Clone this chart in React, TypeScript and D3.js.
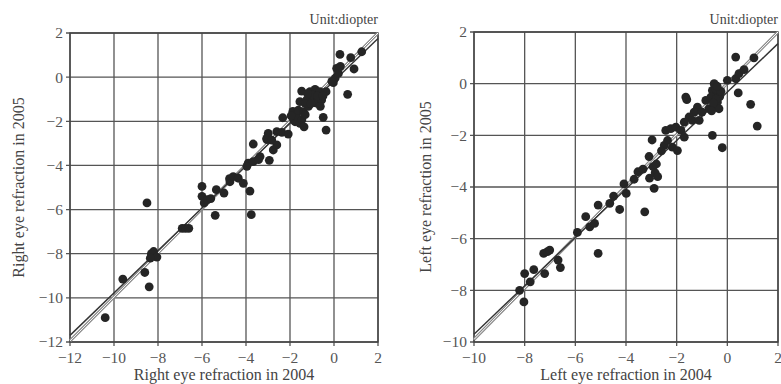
import React from "react";
import * as d3 from "d3";

// Right eye (left panel): [2004, 2005]
const rightEye2004 = [-10.4,-9.6,-8.6,-8.4,-8.5,-8.3,-8.2,-8.05,-8.35,-6.9,-6.75,-6.6,-6.0,-6.0,-5.9,-5.75,-5.6,-5.4,-5.35,-5.0,-4.75,-4.73,-4.58,-4.35,-4.12,-3.82,-3.76,-3.9,-3.96,-3.67,-3.67,-3.36,-3.43,-2.94,-3.05,-2.99,-3.06,-2.83,-2.6,-2.76,-2.6,-2.37,-2.08,-2.33,-1.87,-1.84,-1.77,-1.7,-1.62,-1.55,-1.39,-1.46,-1.36,-1.31,-1.55,-1.24,-1.16,-0.94,-0.79,-0.56,-0.62,-1.47,-1.09,-0.86,-0.64,-0.36,-0.49,-0.36,-0.03,0.05,0.12,0.2,0.29,0.27,0.76,1.26,0.91,0.62,-0.1,-1.0,-0.75,-1.3,-0.5,-1.2,-1.95,-1.05];
const rightEye2005 = [-10.9,-9.15,-8.85,-9.5,-5.7,-8.0,-7.9,-8.15,-8.2,-6.85,-6.85,-6.85,-4.95,-5.4,-5.7,-5.55,-5.5,-6.26,-5.1,-5.25,-4.6,-4.74,-4.51,-4.58,-4.81,-5.16,-6.23,-3.9,-4.04,-3.83,-3.03,-3.6,-3.74,-3.77,-2.83,-2.55,-2.77,-2.85,-2.47,-3.3,-3.07,-2.5,-2.58,-1.84,-1.55,-1.93,-2.02,-1.79,-1.49,-2.09,-1.57,-1.93,-2.25,-1.7,-1.11,-1.03,-1.32,-0.95,-1.18,-1.03,-1.32,-0.63,-0.66,-0.55,-0.66,-0.66,-1.82,-2.4,-0.25,-0.05,0.4,0.17,0.49,1.03,0.88,1.15,0.37,-0.78,-0.19,-0.8,-0.85,-1.2,-0.85,-0.75,-1.75,-1.2];

// Left eye (right panel): [2004, 2005]
const leftEye2004 = [-8.2,-8.03,-8.0,-7.78,-7.64,-7.21,-7.25,-7.1,-7.01,-6.68,-6.59,-5.92,-5.59,-5.43,-5.24,-5.1,-5.1,-4.64,-4.49,-4.25,-4.08,-3.99,-3.68,-3.53,-3.33,-3.26,-3.09,-3.07,-2.97,-2.89,-2.93,-2.8,-2.85,-2.49,-2.36,-2.17,-2.43,-2.23,-2.03,-1.83,-1.97,-1.7,-1.64,-1.6,-1.18,-1.31,-1.51,-1.38,-1.11,-1.7,-0.85,-0.52,-0.59,-0.39,-0.65,-0.39,-0.52,-0.72,-0.33,-0.45,-0.3,-0.59,-0.2,0.0,0.33,0.46,0.66,0.33,1.05,0.43,0.92,1.18,-0.45,-0.55,-0.25,-0.4,-0.62,-1.0,-2.6,-2.75];
const leftEye2005 = [-8.0,-8.45,-7.35,-7.67,-7.2,-7.35,-6.57,-6.5,-6.44,-6.83,-7.12,-5.76,-5.15,-5.54,-5.41,-4.7,-6.57,-4.63,-4.35,-4.87,-3.88,-4.25,-3.7,-3.41,-3.31,-4.96,-2.82,-3.66,-2.18,-4.05,-3.21,-3.11,-3.45,-2.39,-2.2,-2.46,-1.81,-1.74,-1.68,-1.81,-2.59,-2.07,-0.52,-0.62,-0.91,-1.1,-1.29,-1.42,-1.42,-1.49,-0.65,0.0,-0.26,-0.39,-0.52,-0.71,-0.91,-0.97,-0.97,-0.2,-0.5,-2.0,-2.48,0.13,0.19,0.39,0.54,1.03,1.0,-0.36,-0.8,-1.64,-0.6,-0.75,-0.3,-0.1,-1.05,-1.1,-2.6,-3.6];

const rightTicks = [-12, -10, -8, -6, -4, -2, 0, 2];
const leftTicks = [-10, -8, -6, -4, -2, 0, 2];

// Fitted (solid) and reference (double) lines: [x1, y1, x2, y2]
const rightEyeFit = [-12, -11.7, 2, 1.75];
const rightEyeRef = [-12, -11.95, 2, 2];
const leftEyeFit = [-10, -9.7, 2, 1.55];
const leftEyeRef = [-10, -9.9, 2, 2];

const FONT = "'Liberation Serif', 'Times New Roman', serif";

type PanelProps = {
  xs: number[]; ys: number[]; ticks: number[];
  x0: number; x1: number; y0: number; y1: number;
  fit: number[]; ref: number[];
  xLabel: string; yLabel: string; yLabelX: number;
};

const fmt = (v: number) => (v < 0 ? "\u2212" + Math.abs(v) : String(v));

function Panel(p: PanelProps) {
  const dom: [number, number] = [p.ticks[0], p.ticks[p.ticks.length - 1]];
  const x = d3.scaleLinear().domain(dom).range([p.x0, p.x1]);
  const y = d3.scaleLinear().domain(dom).range([p.y1, p.y0]);
  const grid = "#555";
  const cx = (p.x0 + p.x1) / 2;
  const cy = (p.y0 + p.y1) / 2;
  return (
    <g>
      <rect x={p.x0} y={p.y0} width={p.x1 - p.x0} height={p.y1 - p.y0} fill="#fff" />
      {p.ticks.map((t) => (
        <g key={"g" + t}>
          <line x1={x(t)} x2={x(t)} y1={p.y0} y2={p.y1 + 4} stroke={grid} strokeWidth={1.3} />
          <line x1={p.x0 - 4} x2={p.x1} y1={y(t)} y2={y(t)} stroke={grid} strokeWidth={1.3} />
          <text x={x(t)} y={p.y1 + 21} textAnchor="middle" fontFamily={FONT} fontSize={15.5} fill="#555">{fmt(t)}</text>
          <text x={p.x0 - 7} y={y(t)} dy="0.35em" textAnchor="end" fontFamily={FONT} fontSize={15.5} fill="#555">{fmt(t)}</text>
        </g>
      ))}
      <rect x={p.x0} y={p.y0} width={p.x1 - p.x0} height={p.y1 - p.y0} fill="none" stroke="#444" strokeWidth={1.4} />
      <line x1={x(p.ref[0])} y1={y(p.ref[1])} x2={x(p.ref[2])} y2={y(p.ref[3])} stroke="#8a8a8a" strokeWidth={3} />
      <line x1={x(p.ref[0])} y1={y(p.ref[1])} x2={x(p.ref[2])} y2={y(p.ref[3])} stroke="#fff" strokeWidth={1} />
      <line x1={x(p.fit[0])} y1={y(p.fit[1])} x2={x(p.fit[2])} y2={y(p.fit[3])} stroke="#333" strokeWidth={1.4} />
      {p.xs.map((v, i) => (
        <circle key={i} cx={x(v)} cy={y(p.ys[i])} r={4.4} fill="#252525" />
      ))}
      <text x={p.x1} y={24} textAnchor="end" fontFamily={FONT} fontSize={14} fill="#444">Unit:diopter</text>
      <text x={cx} y={380} textAnchor="middle" fontFamily={FONT} fontSize={16} fill="#444">{p.xLabel}</text>
      <text transform={`translate(${p.yLabelX},${cy}) rotate(-90)`} textAnchor="middle" dy="0.35em" fontFamily={FONT} fontSize={16} fill="#444">{p.yLabel}</text>
    </g>
  );
}

export default function App() {
  return (
    <svg width={781} height={384} style={{ position: "absolute", left: 0, top: 0, background: "#fff" }}>
      <rect width={781} height={384} fill="#fff" />
      <Panel xs={rightEye2004} ys={rightEye2005} ticks={rightTicks}
        x0={70} x1={378} y0={33} y1={342} fit={rightEyeFit} ref={rightEyeRef}
        xLabel="Right eye refraction in 2004" yLabel="Right eye refraction in 2005" yLabelX={18} />
      <Panel xs={leftEye2004} ys={leftEye2005} ticks={leftTicks}
        x0={474} x1={778} y0={32} y1={342} fit={leftEyeFit} ref={leftEyeRef}
        xLabel="Left eye refraction in 2004" yLabel="Left eye refraction in 2005" yLabelX={425} />
    </svg>
  );
}
